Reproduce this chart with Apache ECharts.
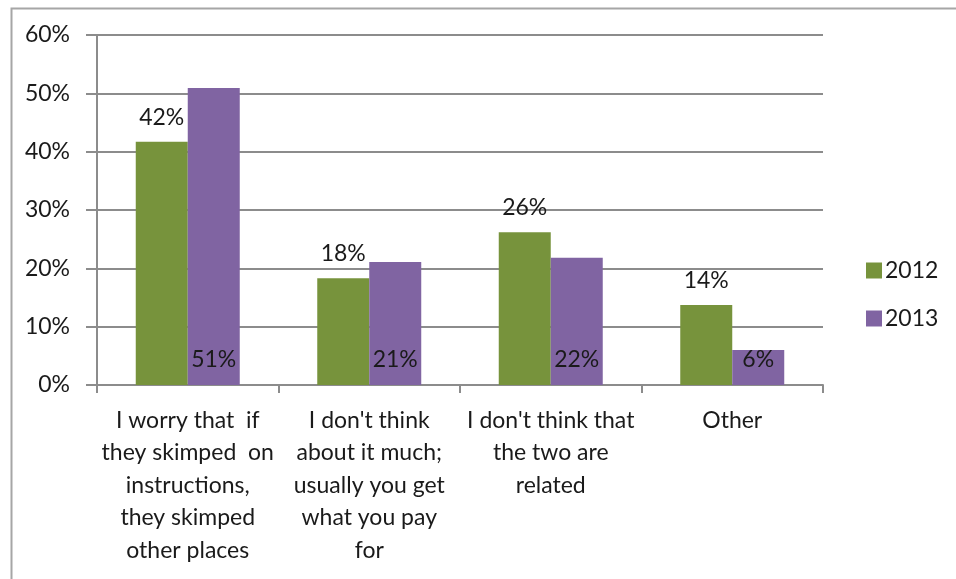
<!DOCTYPE html>
<html>
<head>
<meta charset="utf-8">
<script src="https://cdn.jsdelivr.net/npm/echarts@6/dist/echarts.min.js"></script>
<style>
html,body{margin:0;padding:0;background:#fff;}
#chart{width:956px;height:579px;}
</style>
</head>
<body>
<div id="chart"></div>
<script>
const categories = [
  "I worry that  if\nthey skimped  on\ninstructions,\nthey skimped\nother places",
  "I don't think\nabout it much;\nusually you get\nwhat you pay\nfor",
  "I don't think that\nthe two are\nrelated",
  "Other"
];
const seriesNames = ["2012", "2013"];
const values2012 = [41.7, 18.3, 26.2, 13.7];
const values2013 = [50.9, 21.1, 21.8, 6.0];
const yTicks = [0, 10, 20, 30, 40, 50, 60];

const FONT = "Lato";
const FS = 23;
const TXT = "#1a1a1a";
const chart = echarts.init(document.getElementById('chart'), null, {renderer: 'canvas'});
chart.setOption({
  animation: false,
  backgroundColor: '#fff',
  textStyle: {fontFamily: FONT},
  graphic: [{
    type: 'rect', left: 9, top: 6,
    shape: {width: 1100, height: 1100},
    style: {fill: 'none', stroke: '#a6a6a6', lineWidth: 2}
  }],
  grid: {left: 97, right: 133, top: 35, bottom: 194, containLabel: false},
  legend: {
    orient: 'vertical', left: 861, top: 254,
    itemWidth: 16, itemHeight: 16, itemGap: 25,
    icon: 'rect',
    textStyle: {fontFamily: FONT, fontSize: FS, color: TXT, padding: [0,0,0,-2]},
    data: seriesNames
  },
  xAxis: {
    type: 'category', data: categories,
    axisLine: {lineStyle: {color: '#8c8c8c', width: 2}},
    axisTick: {show: true, length: 8, lineStyle: {color: '#8c8c8c', width: 2}},
    axisLabel: {fontFamily: FONT, fontSize: FS, color: TXT, lineHeight: 32.5, margin: 19, interval: 0, align: 'center'}
  },
  yAxis: {
    type: 'value', min: yTicks[0], max: yTicks[yTicks.length-1], interval: 10,
    axisLine: {show: true, lineStyle: {color: '#8c8c8c', width: 2}},
    axisTick: {show: true, length: 11, lineStyle: {color: '#8c8c8c', width: 2}},
    splitLine: {lineStyle: {color: '#8c8c8c', width: 2}},
    axisLabel: {fontFamily: FONT, fontSize: FS, color: TXT, margin: 27, formatter: v => v + '%'}
  },
  series: [
    {
      name: seriesNames[0], type: 'bar', data: values2012,
      barGap: '0%', barCategoryGap: '42.7%',
      itemStyle: {color: '#77933C'},
      label: {show: true, position: 'top', distance: 13, fontFamily: FONT, fontSize: FS, color: TXT,
        formatter: p => Math.round(p.value) + '%'}
    },
    {
      name: seriesNames[1], type: 'bar', data: values2013,
      barGap: '0%', barCategoryGap: '42.7%',
      itemStyle: {color: '#8064A2'},
      label: {show: true, position: 'insideBottom', distance: 14, fontFamily: FONT, fontSize: FS, color: TXT,
        formatter: p => Math.round(p.value) + '%'}
    }
  ]
});
</script>
</body>
</html>
